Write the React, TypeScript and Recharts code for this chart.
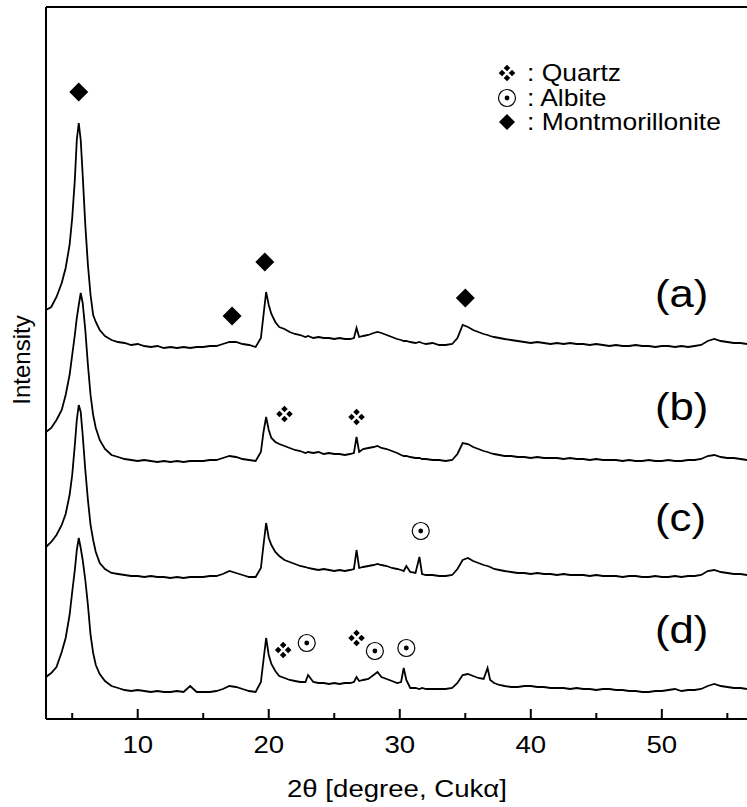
import React from "react"
import { LineChart, Line, XAxis, YAxis, ReferenceDot } from "recharts"

// 2θ positions (degrees) shared by all four patterns
const angles = [
  3, 3.4, 3.8, 4.2, 4.5, 4.8, 5.0, 5.2, 5.35, 5.5,
  5.65, 5.8, 6.0, 6.2, 6.4, 6.6, 6.8, 7.1, 7.5, 8.0,
  8.5, 9.0, 9.5, 10, 10.5, 11, 11.5, 12, 12.5, 13,
  13.5, 14, 14.5, 15, 15.5, 16, 16.5, 17, 17.5, 18,
  18.5, 19, 19.4, 19.6, 19.8, 20.0, 20.2, 20.5, 20.8, 21.2,
  21.6, 22.0, 22.4, 22.8, 23.0, 23.4, 23.8, 24.2, 24.6, 25.0,
  25.4, 25.8, 26.2, 26.5, 26.7, 26.9, 27.2, 27.6, 28.0, 28.3,
  28.6, 29.0, 29.4, 29.8, 30.1, 30.3, 30.5, 30.8, 31.2, 31.5,
  31.7, 32.0, 32.5, 33.0, 33.5, 34.0, 34.4, 34.8, 35.2, 35.6,
  36.0, 36.4, 36.7, 36.9, 37.2, 37.6, 38.0, 38.5,
  39, 39.5, 40, 40.5, 41, 41.5, 42, 42.5, 43, 43.5,
  44, 44.5, 45, 45.5, 46, 46.5, 47, 47.5, 48, 48.5,
  49, 49.5, 50, 50.5, 51, 51.5, 52, 52.5, 53, 53.5,
  54, 54.5, 55, 55.5, 56, 56.5,
]

// intensities (a.u.) for each sample
const sampleA = [
  64, 67, 77, 91, 106, 129, 156, 194, 234, 251,
  234, 199, 149, 109, 79, 59, 52, 44, 38, 34,
  32, 31, 29, 30, 28, 27, 28, 26, 27, 26,
  27, 26, 27, 27, 28, 28, 30, 32, 32, 30,
  29, 27, 36, 59, 82, 69, 60, 52, 47, 45,
  42, 40, 39, 37, 38, 36, 37, 36, 36, 35,
  36, 35, 35, 36, 46, 37, 38, 39, 41, 42,
  41, 39, 37, 35, 34, 33, 33, 32, 31, 32,
  31, 30, 31, 29, 29, 30, 36, 49, 47, 44,
  42, 40, 39, 38, 37, 36, 35, 34,
  33, 32, 31, 32, 31, 30, 31, 30, 31, 30,
  30, 29, 30, 29, 28, 29, 28, 28, 29, 28,
  28, 27, 28, 28, 27, 28, 27, 28, 29, 33,
  35, 33, 32, 31, 31, 30,
]

const sampleB = [
  57, 61, 69, 79, 94, 114, 134, 154, 171, 184,
  196, 186, 159, 124, 94, 74, 61, 49, 40, 34,
  32, 30, 29, 28, 29, 28, 27, 28, 27, 28,
  27, 28, 28, 28, 29, 29, 31, 33, 32, 30,
  29, 28, 37, 57, 72, 59, 51, 47, 45, 43,
  41, 39, 38, 36, 37, 36, 37, 35, 36, 35,
  35, 34, 35, 36, 52, 37, 40, 41, 42, 43,
  41, 40, 38, 36, 34, 33, 33, 32, 31, 31,
  30, 30, 29, 29, 28, 29, 35, 46, 45, 42,
  40, 38, 37, 36, 35, 34, 33, 33,
  32, 32, 31, 32, 31, 31, 31, 30, 31, 30,
  30, 29, 30, 29, 29, 29, 28, 29, 28, 28,
  29, 28, 28, 29, 28, 28, 29, 29, 30, 33,
  34, 32, 31, 31, 30, 29,
]

const sampleC = [
  57, 62, 69, 79, 90, 109, 129, 159, 184, 199,
  192, 169, 134, 104, 79, 64, 52, 41, 35, 31,
  30, 29, 28, 28, 27, 28, 27, 27, 26, 27,
  26, 27, 27, 27, 28, 28, 30, 33, 31, 29,
  27, 27, 36, 59, 81, 66, 59, 52, 48, 44,
  42, 40, 38, 37, 36, 35, 34, 35, 34, 33,
  34, 33, 34, 35, 54, 36, 37, 38, 39, 40,
  39, 38, 36, 35, 34, 33, 38, 32, 31, 47,
  30, 29, 29, 28, 28, 29, 35, 44, 46, 43,
  41, 39, 38, 37, 35, 34, 33, 32,
  31, 31, 30, 31, 30, 30, 29, 30, 29, 29,
  29, 28, 29, 28, 28, 28, 27, 28, 28, 27,
  27, 28, 27, 27, 28, 27, 28, 28, 29, 33,
  34, 32, 31, 30, 30, 29,
]

const sampleD = [
  42, 46, 52, 67, 81, 104, 127, 149, 169, 181,
  171, 159, 139, 114, 84, 66, 54, 45, 38, 33,
  31, 29, 28, 29, 28, 27, 28, 27, 27, 28,
  27, 33, 27, 27, 27, 28, 30, 33, 32, 30,
  28, 27, 37, 59, 81, 64, 55, 48, 43, 41,
  39, 38, 37, 37, 44, 37, 36, 36, 35, 36,
  35, 36, 36, 37, 42, 38, 39, 40, 44, 47,
  42, 40, 38, 36, 37, 51, 39, 31, 31, 30,
  31, 30, 30, 30, 30, 31, 36, 44, 45, 43,
  41, 40, 51, 39, 36, 34, 33, 32,
  32, 33, 33, 32, 32, 31, 31, 31, 30, 31,
  30, 30, 29, 30, 30, 29, 29, 28, 28, 27,
  27, 28, 28, 29, 30, 28, 29, 29, 30, 33,
  35, 33, 32, 31, 31, 30,
]

// vertical shift applied to each pattern when stacking
const offsets = { a: 345, b: 230, c: 115, d: 0 }

const sampleLabels = ["(a)", "(b)", "(c)", "(d)"]
const majorTicks = [10, 20, 30, 40, 50]
const axisTicks = [5, 10, 15, 20, 25, 30, 35, 40, 45, 50, 55]

// phase markers, placed in (2θ, stacked intensity)
const montmorillonite = [
  { t: 5.5, v: 627 },
  { t: 17.2, v: 403 },
  { t: 19.7, v: 457 },
  { t: 35.0, v: 421 },
]
const quartz = [
  { t: 21.2, v: 305 },
  { t: 26.7, v: 302 },
  { t: 21.1, v: 69 },
  { t: 26.7, v: 81 },
]
const albite = [
  { t: 31.6, v: 188 },
  { t: 22.9, v: 76 },
  { t: 28.1, v: 68 },
  { t: 30.5, v: 71 },
]

const rows = angles.map((t, i) => ({
  t,
  a: sampleA[i] + offsets.a,
  b: sampleB[i] + offsets.b,
  c: sampleC[i] + offsets.c,
  d: sampleD[i] + offsets.d,
}))

const W = 747
const H = 807
const topGap = 7
const leftGap = 46
const bottomGap = 88
const plotBottom = H - bottomGap
const font = "'Liberation Sans', Arial, Helvetica, sans-serif"
const stretch = 1.15

const DiamondShape = ({ cx, cy, s = 9.5 }: any) => (
  <path d={`M${cx},${cy - s}L${cx + s},${cy}L${cx},${cy + s}L${cx - s},${cy}Z`} fill="#000" />
)

const QuartzShape = ({ cx, cy }: any) => {
  const d = 5
  const s = 3.3
  return (
    <g fill="#000">
      {[
        [0, -d],
        [d, 0],
        [0, d],
        [-d, 0],
      ].map(([dx, dy], i) => (
        <path
          key={i}
          d={`M${cx + dx},${cy + dy - s}L${cx + dx + s},${cy + dy}L${cx + dx},${cy + dy + s}L${cx + dx - s},${cy + dy}Z`}
        />
      ))}
    </g>
  )
}

const AlbiteShape = ({ cx, cy }: any) => (
  <g>
    <circle cx={cx} cy={cy} r={8.5} fill="#fff" stroke="#000" strokeWidth={1.2} />
    <circle cx={cx} cy={cy} r={2.4} fill="#000" />
  </g>
)

// inward ticks: long with a label at 10° steps, short in between
const AxisTick = ({ x, payload }: any) => {
  const major = majorTicks.includes(payload.value)
  return (
    <g>
      <line
        x1={x}
        x2={x}
        y1={plotBottom}
        y2={plotBottom - (major ? 10 : 6)}
        stroke="#000"
        strokeWidth={2}
      />
      {major && (
        <text
          transform={`translate(${x},753) scale(${stretch},1)`}
          textAnchor="middle"
          fontSize={24}
          fontFamily={font}
          fill="#000"
        >
          {payload.value}
        </text>
      )}
    </g>
  )
}

export default function App() {
  const labelY = [307, 420, 531, 643]
  return (
    <div style={{ position: "absolute", left: 0, top: 0, width: W, height: H, background: "#fff" }}>
      <LineChart width={W} height={H} data={rows} margin={{ top: 0, right: 0, bottom: 0, left: 0 }}>
        <XAxis
          dataKey="t"
          type="number"
          domain={[3, 56.5]}
          ticks={axisTicks}
          tick={<AxisTick />}
          tickLine={false}
          axisLine={{ stroke: "#000", strokeWidth: 2 }}
          height={bottomGap}
          interval={0}
        />
        <XAxis
          xAxisId="top"
          orientation="top"
          dataKey="t"
          type="number"
          domain={[3, 56.5]}
          tick={false}
          tickLine={false}
          axisLine={{ stroke: "#000", strokeWidth: 2 }}
          height={topGap}
        />
        <YAxis
          type="number"
          domain={[0, 712]}
          allowDataOverflow
          tick={false}
          tickLine={false}
          axisLine={{ stroke: "#000", strokeWidth: 2 }}
          width={leftGap}
        />
        {(["a", "b", "c", "d"] as const).map((k) => (
          <Line
            key={k}
            dataKey={k}
            type="linear"
            stroke="#000"
            strokeWidth={1.8}
            dot={false}
            activeDot={false}
            isAnimationActive={false}
          />
        ))}
        {montmorillonite.map((m, i) => (
          <ReferenceDot key={`m${i}`} x={m.t} y={m.v} r={9} ifOverflow="visible" shape={<DiamondShape />} />
        ))}
        {quartz.map((m, i) => (
          <ReferenceDot key={`q${i}`} x={m.t} y={m.v} r={8} ifOverflow="visible" shape={<QuartzShape />} />
        ))}
        {albite.map((m, i) => (
          <ReferenceDot key={`al${i}`} x={m.t} y={m.v} r={8} ifOverflow="visible" shape={<AlbiteShape />} />
        ))}
      </LineChart>
      <svg
        width={W}
        height={H}
        style={{ position: "absolute", left: 0, top: 0, pointerEvents: "none" }}
        fontFamily={font}
      >
        {/* phase legend */}
        <QuartzShape cx={507} cy={73} />
        <AlbiteShape cx={507} cy={98} />
        <DiamondShape cx={507} cy={122} s={8} />
        <g fontSize={23} fill="#000">
          <text transform={`translate(527,81) scale(${stretch},1)`}>: Quartz</text>
          <text transform={`translate(527,106) scale(${stretch},1)`}>: Albite</text>
          <text transform={`translate(527,130) scale(${stretch},1)`}>: Montmorillonite</text>
        </g>
        {sampleLabels.map((s, i) => (
          <text key={s} transform={`translate(655,${labelY[i]}) scale(${stretch},1)`} fontSize={38} fill="#000">
            {s}
          </text>
        ))}
        <text transform={`translate(397,797) scale(${stretch},1)`} textAnchor="middle" fontSize={24} fill="#000">
          2θ [degree, Cukα]
        </text>
        <text transform="translate(30,360) rotate(-90)" textAnchor="middle" fontSize={24} fill="#000">
          Intensity
        </text>
      </svg>
    </div>
  )
}
